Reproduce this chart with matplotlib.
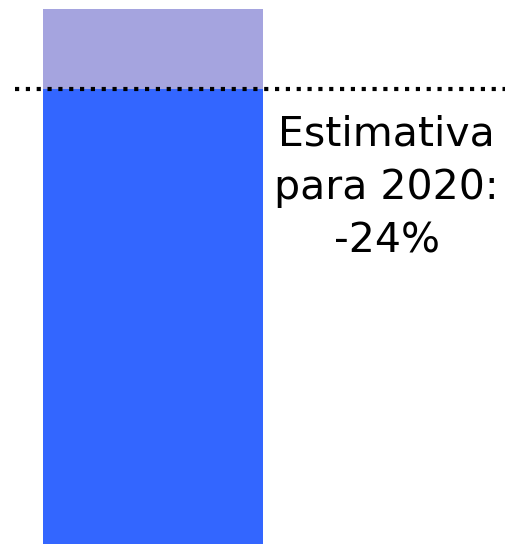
import matplotlib
matplotlib.use("Agg")
import matplotlib.pyplot as plt

categories = ["2020"]
reference_value = [100]
estimate_value = [85]
label_text = "Estimativa\npara 2020:\n-24%"

W, H = 510, 544
fig = plt.figure(figsize=(W / 100, H / 100), dpi=100)
ax = fig.add_axes([0, 0, 1, 1])

px = 220.0
xmin = -0.5 - 43 / px
xmax = xmin + W / px
ax.set_xlim(xmin, xmax)
top_val = reference_value[0] / ((H - 9) / H)
ax.set_ylim(0, top_val)

xpos = list(range(len(categories)))
ax.bar(xpos, reference_value, width=1.0, color="#A5A4DF", zorder=1)
ax.bar(xpos, estimate_value, width=1.0, color="#3366FF", zorder=2)
ax.axhline(estimate_value[0], xmin=15 / W, xmax=505 / W, color="black",
           linestyle=(0, (1, 1.6)), linewidth=3, zorder=3)

tx = xmin + 386.5 / px
ty = top_val * (1 - 188 / H)
ax.text(tx, ty, label_text, ha="center", va="center", fontsize=29.5,
        family="DejaVu Sans", linespacing=1.42, color="black")

ax.axis("off")
fig.savefig("out.png", dpi=100)
